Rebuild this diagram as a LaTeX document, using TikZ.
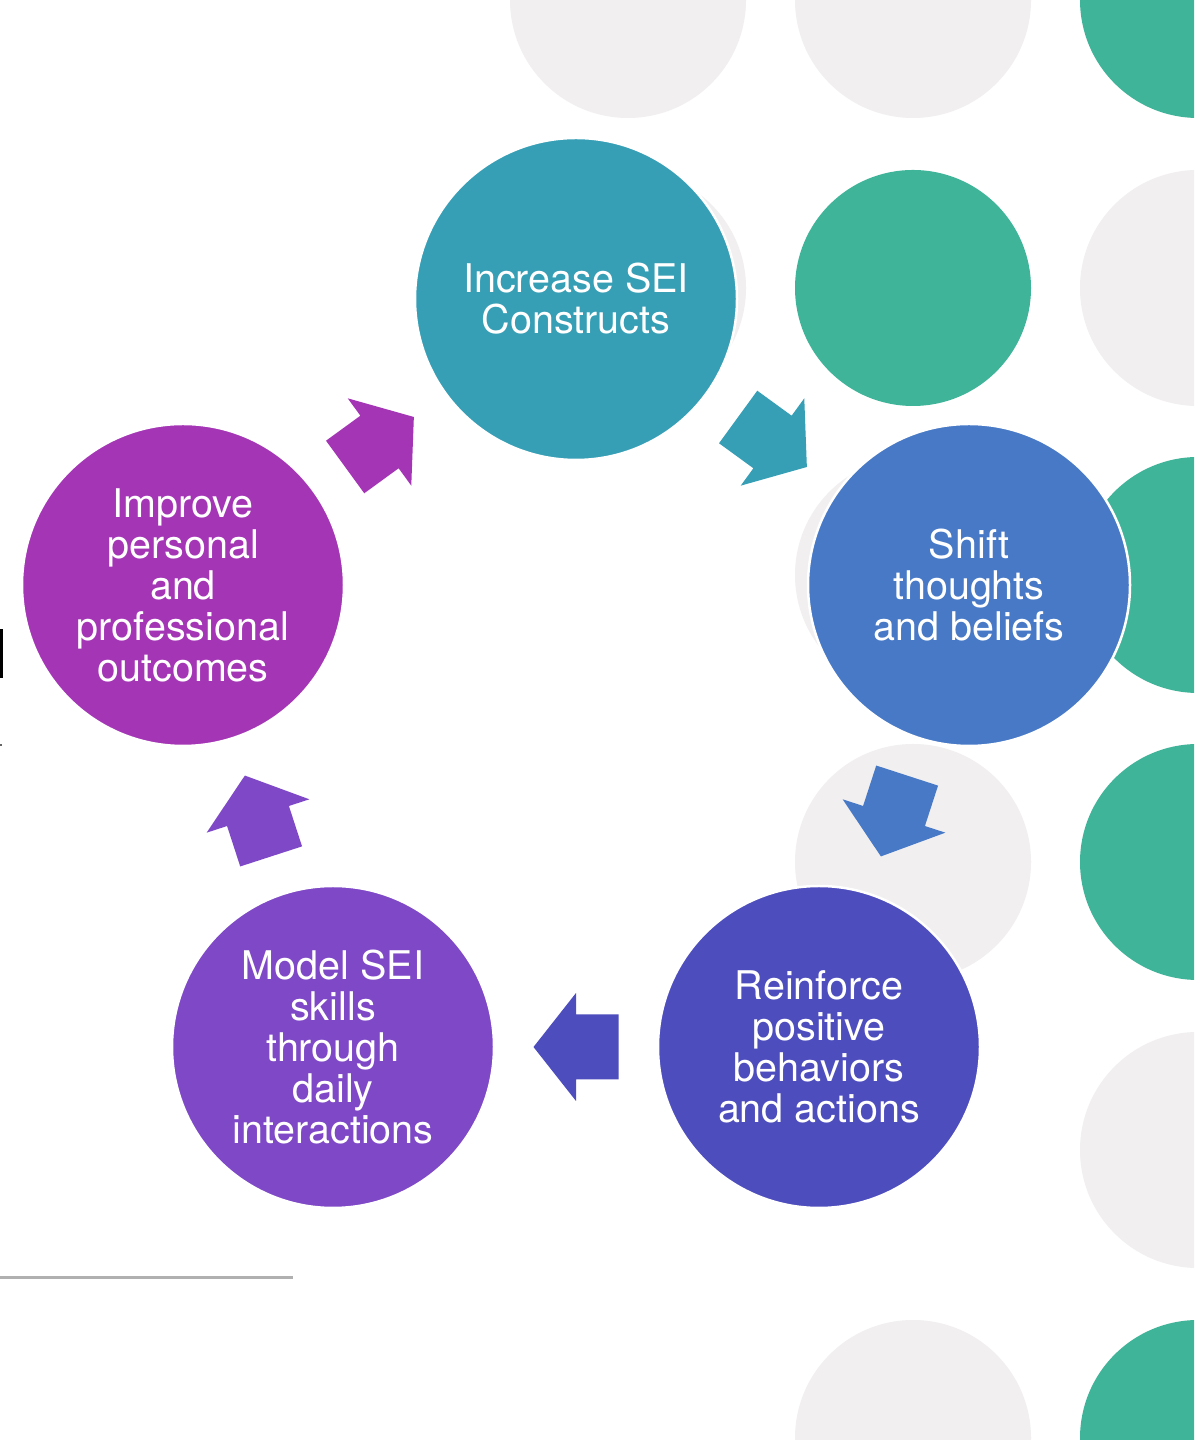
\documentclass[tikz,border=0pt]{standalone}
\usepackage{fontspec}
\setmainfont{TeX Gyre Heros}
\usetikzlibrary{calc}

\definecolor{seiteal}{RGB}{54,159,182}
\definecolor{seiblue}{RGB}{71,121,198}
\definecolor{seiindigo}{RGB}{78,77,190}
\definecolor{seipurple}{RGB}{126,72,198}
\definecolor{seimagenta}{RGB}{164,54,182}
\definecolor{dotgray}{RGB}{241,239,239}
\definecolor{dotgreen}{RGB}{64,180,153}
\definecolor{rulegray}{RGB}{176,176,176}

\tikzset{
  stage/.style={circle, minimum size=322pt, inner sep=0pt, draw=white, line width=2.5pt,
    text=white, align=center, font=\fontsize{39.5}{41}\selectfont},
  cyclearrow/.pic={
    \path[pic actions] (-42.5,-32.5) -- (0,-32.5) -- (0,-54) -- (42.5,0)
      -- (0,54) -- (0,32.5) -- (-42.5,32.5) -- cycle;
  }
}
% block arrow halfway between two stages, pointing from #1 to #2
\newcommand{\stepto}[3]{\path let \p1=(#1), \p2=(#2), \n1={atan2(\y2-\y1,\x2-\x1)} in
  pic[rotate=\n1, fill=#3] at ($(#1)!.5!(#2)$) {cyclearrow};}

\begin{document}
\begin{tikzpicture}[x=1pt, y=1pt]
\useasboundingbox (0,0) rectangle (1194,1440);
\clip (0,0) rectangle (1194,1440);
\fill[white] (0,0) rectangle (1194,1440);

% dotted backdrop
\foreach \x/\y/\c in {628/1440/dotgray, 628/1152/dotgray, 913/1440/dotgray, 913/865/dotgray,
  913/578/dotgray, 913/2/dotgray, 1198/1152/dotgray, 1198/290/dotgray,
  913/1152/dotgreen, 1198/1440/dotgreen, 1198/865/dotgreen, 1198/578/dotgreen, 1198/2/dotgreen}
  \fill[\c] (\x,\y) circle (118pt);

% the cycle
\node[stage, fill=seiteal] (inc) at (576,1141) {Increase SEI\\Constructs};
\node[stage, fill=seiblue] (shift) at (969,855) {Shift\\thoughts\\and beliefs};
\node[stage, fill=seiindigo] (reinf) at (819,393) {Reinforce\\positive\\behaviors\\and actions};
\node[stage, fill=seipurple] (model) at (333,393) {Model SEI\\skills\\through\\daily\\interactions};
\node[stage, fill=seimagenta] (impr) at (183,855) {Improve\\personal\\and\\professional\\outcomes};

\stepto{inc}{shift}{seiteal}
\stepto{shift}{reinf}{seiblue}
\stepto{reinf}{model}{seiindigo}
\stepto{model}{impr}{seipurple}
\stepto{impr}{inc}{seimagenta}

\draw[rulegray, line width=3pt] (0,162.5) -- (293,162.5);
\fill (0,762) rectangle (3,811);
\fill[black!60] (0,694) rectangle (1.5,696);
\end{tikzpicture}
\end{document}
